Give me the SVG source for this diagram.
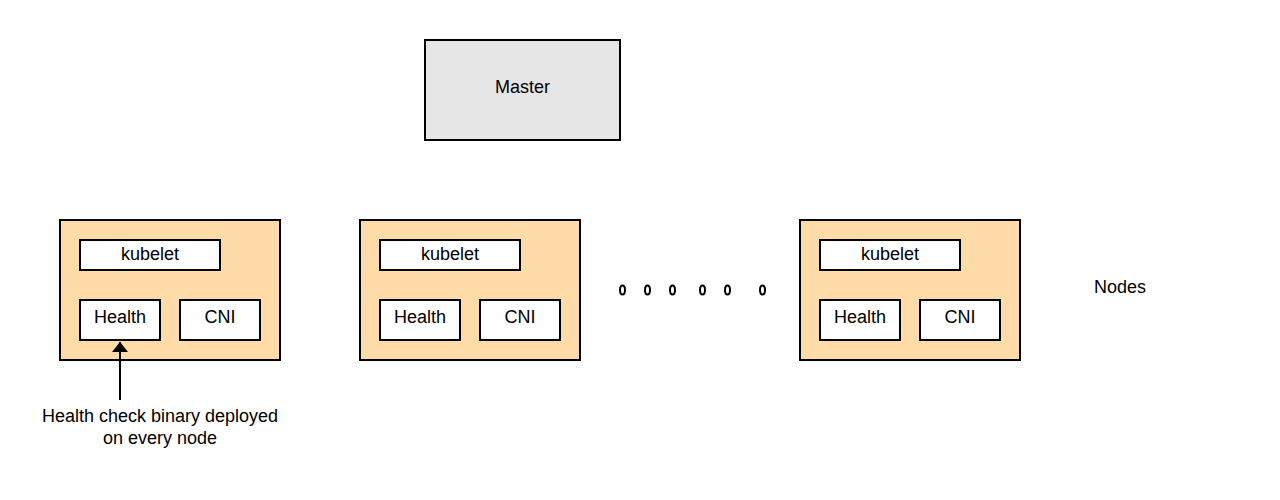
<svg xmlns="http://www.w3.org/2000/svg" width="1280" height="500" viewBox="0 0 1280 500">
<defs>
<style>
.b{stroke:#000;stroke-width:2}
.node{fill:#ffdba8}
.w{fill:#fff}
.t{font-family:"Liberation Sans",Arial,sans-serif;font-size:18px;fill:#000;text-anchor:middle}
.dot{fill:none;stroke:#000;stroke-width:2}
</style>
<marker id="ah" viewBox="0 0 10 16" refX="10" refY="8" markerWidth="10" markerHeight="16" markerUnits="userSpaceOnUse" orient="auto">
<path d="M0,0 L10,8 L0,16 Z" fill="#000"/>
</marker>
</defs>
<rect width="1280" height="500" fill="#fff"/>
<g id="master">
<rect class="b" x="425" y="40" width="195" height="100" fill="#e6e6e6"/>
<text class="t" x="522.5" y="93">Master</text>
</g>
<g id="node1">
<rect class="b node" x="60" y="220" width="220" height="140"/>
<rect class="b w" x="80" y="240" width="140" height="30"/>
<text class="t" x="150" y="260">kubelet</text>
<rect class="b w" x="80" y="300" width="80" height="40"/>
<text class="t" x="120" y="323">Health</text>
<rect class="b w" x="180" y="300" width="80" height="40"/>
<text class="t" x="220" y="323">CNI</text>
</g>
<g id="node2">
<rect class="b node" x="360" y="220" width="220" height="140"/>
<rect class="b w" x="380" y="240" width="140" height="30"/>
<text class="t" x="450" y="260">kubelet</text>
<rect class="b w" x="380" y="300" width="80" height="40"/>
<text class="t" x="420" y="323">Health</text>
<rect class="b w" x="480" y="300" width="80" height="40"/>
<text class="t" x="520" y="323">CNI</text>
</g>
<g id="node3">
<rect class="b node" x="800" y="220" width="220" height="140"/>
<rect class="b w" x="820" y="240" width="140" height="30"/>
<text class="t" x="890" y="260">kubelet</text>
<rect class="b w" x="820" y="300" width="80" height="40"/>
<text class="t" x="860" y="323">Health</text>
<rect class="b w" x="920" y="300" width="80" height="40"/>
<text class="t" x="960" y="323">CNI</text>
</g>
<g id="ellipsis">
<ellipse class="dot" cx="622.5" cy="290" rx="2.5" ry="4.5"/>
<ellipse class="dot" cx="647.5" cy="290" rx="2.5" ry="4.5"/>
<ellipse class="dot" cx="672.5" cy="290" rx="2.5" ry="4.5"/>
<ellipse class="dot" cx="702.5" cy="290" rx="2.5" ry="4.5"/>
<ellipse class="dot" cx="727.5" cy="290" rx="2.5" ry="4.5"/>
<ellipse class="dot" cx="762.5" cy="290" rx="2.5" ry="4.5"/>
</g>
<g id="nodes-label">
<text class="t" x="1120" y="293">Nodes</text>
</g>
<g id="note">
<text class="t" x="160" y="422">Health check binary deployed</text>
<text class="t" x="160" y="444">on every node</text>
</g>
<g id="connectors">
<line x1="120" y1="400" x2="120" y2="342" stroke="#000" stroke-width="2" marker-end="url(#ah)"/>
</g>
</svg>
